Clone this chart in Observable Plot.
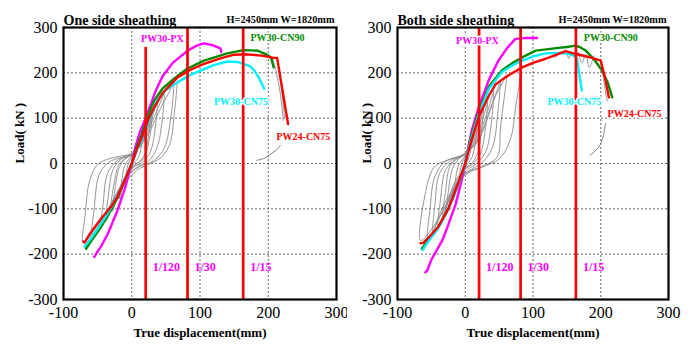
<!DOCTYPE html>
<html><head><meta charset="utf-8">
<script src="https://cdn.jsdelivr.net/npm/d3@7"></script>
<script src="https://cdn.jsdelivr.net/npm/@observablehq/plot@0.6"></script>
<style>
body{margin:0;background:#fff;}
#wrap{display:flex;width:695px;height:345px;overflow:hidden;}
#wrap svg text{font-family:'Liberation Serif','Times New Roman',Times,serif !important;}
#wrap svg g[aria-label*="axis"], #wrap svg g[aria-label*="axis"] text{font-size:16px !important;font-weight:normal !important;}
</style></head><body><div id="wrap"></div>
<script>
// ---------- shared ----------
const xTicks = [-100, 0, 100, 200, 300];
const yTicks = [-300, -200, -100, 0, 100, 200, 300];
const gridX = [0, 100, 200];
const gridY = [-200, -100, 0, 100, 200];
const driftX = [20.4, 81.7, 163.3];
const driftLabels = ["1/120", "1/30", "1/15"];
const driftLabelY = -229;
const seriesNames = ["PW30-PX", "PW30-CN90", "PW30-CN75", "PW24-CN75"];
const seriesColors = ["#ff00ff", "#008a00", "#00f0ff", "#ff0000"];

// ---------- left panel: one side sheathing ----------
const leftTitle = "One side sheathing";
const leftSize = "H=2450mm W=1820mm";
const leftDriftTop = [256, 300, 300];
const leftPX = [[-55,-206],[-45,-183],[-35,-155],[-21,-104],[-10,-55],[0,0],[5,35],[11,65],[23,110],[35,160],[45,192],[60,222],[81,248],[95,260],[106,265],[118,261],[130,254],[131,246]];
const leftCN90 = [[-67,-188],[-60,-172],[-45,-140],[-30,-102],[-21,-76],[-10,-38],[0,0],[7,35],[14,62],[25,110],[33,139],[45,165],[62,187],[81,209],[106,227],[140,243],[164,250],[184,249],[198,240],[204,234],[208,212]];
const leftCN75 = [[-69,-183],[-60,-166],[-45,-133],[-30,-97],[-21,-72],[-10,-36],[0,0],[7,28],[14,49],[25,95],[37,139],[50,162],[67,179],[85,195],[101,205],[120,217],[140,225],[155,224],[174,214],[180,204],[186,190],[194,165]];
const leftPW24 = [[-71,-172],[-69,-174],[-60,-152],[-45,-122],[-30,-95],[-21,-74],[-10,-36],[0,0],[7,30],[14,55],[25,100],[33,124],[45,155],[67,190],[85,206],[106,220],[130,232],[150,240],[167,241],[190,238],[208,233],[213,233],[229,87]];
const leftLabelX = [45, 174, 160, 212];
const leftLabelY = [276, 278, 137, 60];
const leftLabelAnchor = ["middle", "start", "middle", "start"];
const leftGray = [
  [[10,50],[8,28],[4,10],[0,0],[-5,-22],[-10,-45],[-8,-20],[-4,4],[0,14],[5,28],[10,50]],
  [[18,85],[15,45],[10,14],[3,0],[-5,-20],[-12,-45],[-18,-78],[-15,-40],[-10,-4],[-3,12],[5,28],[12,52],[18,85]],
  [[28,115],[25,65],[18,18],[8,0],[0,-8],[-10,-30],[-20,-65],[-28,-105],[-25,-60],[-18,-8],[-8,12],[0,20],[10,40],[20,75],[28,115]],
  [[30,105],[26,55],[18,12],[6,-2],[-8,-25],[-18,-55],[-30,-95],[-26,-45],[-18,0],[-6,14],[6,28],[18,60],[30,105]],
  [[38,140],[35,85],[27,25],[15,2],[3,-8],[-10,-35],[-25,-80],[-38,-128],[-35,-80],[-27,-12],[-15,10],[0,20],[12,40],[27,90],[38,140]],
  [[48,158],[45,100],[37,35],[25,6],[8,-8],[-5,-25],[-20,-60],[-35,-105],[-45,-140],[-42,-90],[-35,-20],[-20,8],[0,20],[15,45],[35,110],[48,158]],
  [[62,178],[58,110],[48,35],[33,7],[10,-8],[-5,-25],[-20,-60],[-40,-115],[-58,-158],[-55,-100],[-47,-22],[-30,6],[0,21],[20,55],[45,130],[62,178]],
  [[67,182],[63,120],[55,40],[40,10],[15,-8],[0,-25],[-20,-65],[-45,-125],[-71,-175],[-68,-110],[-62,-40],[-50,-2],[-30,12],[0,22],[15,40]],
  [[206,233],[212,200],[218,150],[222,95]],
  [[213,233],[219,170],[224,100]]
];
const leftLeader = [[183,7],[195,12],[204,21],[212,30],[218,40]];

// ---------- right panel: both side sheathing ----------
const rightTitle = "Both side sheathing";
const rightSize = "H=2450mm W=1820mm";
const rightDriftTop = [300, 300, 300];
const rightPX = [[-59,-240],[-56,-236],[-50,-212],[-34,-170],[-25,-135],[-14,-89],[-5,-35],[0,0],[5,40],[10,75],[20,124],[35,185],[49,227],[62,255],[74,275],[90,277],[106,277]];
const rightCN90 = [[-64,-188],[-55,-170],[-40,-140],[-25,-100],[-10,-45],[0,0],[8,55],[20,115],[35,170],[54,205],[70,222],[84,234],[104,249],[138,255],[150,257],[163,260],[170,256],[178,249],[190,230],[202,205],[210,180],[217,146]];
const rightCN75 = [[-63,-191],[-55,-173],[-40,-143],[-25,-102],[-10,-46],[0,0],[8,50],[20,110],[35,165],[54,202],[70,217],[84,227],[100,236],[118,243],[140,244],[153,242],[160,238],[165,231],[168,200],[172,161]];
const rightPW24 = [[-66,-176],[-62,-175],[-52,-160],[-40,-140],[-25,-100],[-10,-42],[0,0],[8,45],[20,103],[35,150],[45,175],[59,190],[84,212],[100,222],[118,231],[135,240],[148,248],[162,242],[182,235],[200,227],[206,190],[212,146]];
const rightLabelX = [18, 175, 161, 210];
const rightLabelY = [271, 277, 137, 110];
const rightLabelAnchor = ["middle", "start", "middle", "start"];
const rightGray = [
  [[10,55],[8,28],[4,8],[0,-3],[-5,-22],[-10,-48],[-8,-22],[-4,4],[0,14],[5,28],[10,55]],
  [[18,92],[15,48],[10,14],[3,-2],[-5,-22],[-12,-48],[-18,-82],[-15,-42],[-10,-4],[-3,12],[5,28],[12,55],[18,92]],
  [[27,122],[24,70],[17,18],[8,-2],[0,-10],[-10,-32],[-20,-68],[-28,-110],[-25,-62],[-18,-8],[-8,12],[0,21],[10,45],[20,82],[27,122]],
  [[33,135],[30,80],[22,20],[10,-2],[-5,-18],[-18,-50],[-33,-118],[-29,-60],[-22,-4],[-8,14],[5,28],[20,72],[33,135]],
  [[42,160],[39,95],[30,25],[15,-2],[3,-14],[-10,-38],[-25,-85],[-40,-138],[-37,-85],[-29,-14],[-15,9],[0,21],[14,45],[30,102],[42,160]],
  [[52,182],[48,110],[40,35],[25,2],[8,-14],[-5,-28],[-22,-65],[-38,-112],[-48,-152],[-45,-95],[-38,-22],[-22,6],[0,21],[18,50],[38,125],[52,182]],
  [[62,196],[57,139],[52,80],[47,14],[22,-8],[3,-19],[-12,-45],[-30,-95],[-55,-165],[-52,-100],[-45,-30],[-30,4],[0,21],[22,60],[45,150],[62,196]],
  [[84,212],[76,140],[66,50],[50,10],[25,-8],[0,-25],[-20,-70],[-45,-135],[-66,-170],[-61,-82],[-46,-8],[-27,7],[-2,21],[20,50]],
  [[130,240],[133,234],[136,241]],
  [[150,243],[153,232],[157,244],[162,236],[166,246],[172,222],[178,240],[183,212],[190,238]],
  [[200,228],[204,190],[208,150],[210,138]]
];
const rightLeader = [[184,18],[197,36],[204,62],[207,88]];

// ---------- drawing ----------
const FAM = "'Liberation Serif','Times New Roman',Times,serif";

function panel(cfg) {
  const xy = {x: d => d[0], y: d => d[1]};
  const curves = [cfg.px, cfg.cn90, cfg.cn75, cfg.pw24];
  const labels = seriesNames.map((name, i) => ({name, x: cfg.labelX[i], y: cfg.labelY[i], anchor: cfg.labelAnchor[i], color: seriesColors[i]}));
  const drifts = driftX.map((x, i) => ({x, top: cfg.driftTop[i], label: driftLabels[i]}));
  const marks = [
    Plot.ruleX(gridX, {stroke: "#555", strokeWidth: 0.9, strokeDasharray: "2,2"}),
    Plot.ruleY(gridY, {stroke: "#555", strokeWidth: 0.9, strokeDasharray: "2,2"}),
    ...cfg.gray.map(g => Plot.line(g, {...xy, stroke: "#8a8a8a", strokeWidth: 0.9, curve: "catmull-rom"})),
    Plot.line(cfg.leader, {...xy, stroke: "#707070", strokeWidth: 0.9, curve: "catmull-rom"}),
    ...curves.map((c, i) => Plot.line(c, {...xy, stroke: seriesColors[i], strokeWidth: 2.4, curve: "linear"})),
    Plot.ruleX(drifts, {x: "x", y1: d => -300, y2: d => d.top, stroke: "#ff0000", strokeWidth: 2.7}),
    Plot.text(drifts, {x: "x", y: d => driftLabelY, text: "label", dx: 7, textAnchor: "start", fill: "#ff00ff", fontWeight: "bold", fontSize: 12, fontFamily: FAM}),
    Plot.text(labels.filter(d => d.anchor === "start"), {x: "x", y: "y", text: "name", fill: "color", textAnchor: "start", stroke: "white", strokeWidth: 3, fontWeight: "bold", fontSize: 10, fontFamily: FAM}),
    Plot.text(labels.filter(d => d.anchor === "middle"), {x: "x", y: "y", text: "name", fill: "color", textAnchor: "middle", stroke: "white", strokeWidth: 3, fontWeight: "bold", fontSize: 10, fontFamily: FAM}),
    Plot.frame({stroke: "black", strokeWidth: 2.2}),
    Plot.text([cfg.title], {frameAnchor: "top-left", text: d => d, dy: -12, textAnchor: "start", fontWeight: "bold", fontSize: 14, fontFamily: FAM, fill: "black"}),
    Plot.text([cfg.size], {frameAnchor: "top-right", text: d => d, dy: -12, dx: -2, textAnchor: "end", fontWeight: "bold", fontSize: 10.3, fontFamily: FAM, fill: "black"}),
    Plot.text(["True displacement(mm)"], {frameAnchor: "bottom", text: d => d, dy: 37, fontWeight: "bold", fontSize: 13, fontFamily: FAM, fill: "black"}),
    Plot.text(["Load( kN )"], {frameAnchor: "left", text: d => d, dx: -cfg.marginLeft + 19, rotate: -90, fontWeight: "bold", fontSize: 13, fontFamily: FAM, fill: "black"})
  ];
  return Plot.plot({
    width: cfg.width,
    height: 345,
    marginLeft: cfg.marginLeft,
    marginRight: cfg.marginRight,
    marginTop: 27,
    marginBottom: 46,
    style: {fontFamily: FAM, fontSize: "16px", background: "white", overflow: "visible", color: "black"},
    x: {domain: [-100, 300], ticks: xTicks, tickFormat: d => String(d), tickSize: 0, tickPadding: 7, label: null},
    y: {domain: [-300, 300], ticks: yTicks, tickFormat: d => String(d), tickSize: 0, tickPadding: 6, label: null},
    marks
  });
}

const wrap = document.getElementById("wrap");
wrap.append(panel({
  width: 347, marginLeft: 63, marginRight: 11,
  title: leftTitle, size: leftSize, driftTop: leftDriftTop,
  px: leftPX, cn90: leftCN90, cn75: leftCN75, pw24: leftPW24,
  labelX: leftLabelX, labelY: leftLabelY, labelAnchor: leftLabelAnchor,
  gray: leftGray, leader: leftLeader
}));
wrap.append(panel({
  width: 348, marginLeft: 50, marginRight: 27,
  title: rightTitle, size: rightSize, driftTop: rightDriftTop,
  px: rightPX, cn90: rightCN90, cn75: rightCN75, pw24: rightPW24,
  labelX: rightLabelX, labelY: rightLabelY, labelAnchor: rightLabelAnchor,
  gray: rightGray, leader: rightLeader
}));
</script>
</body></html>
